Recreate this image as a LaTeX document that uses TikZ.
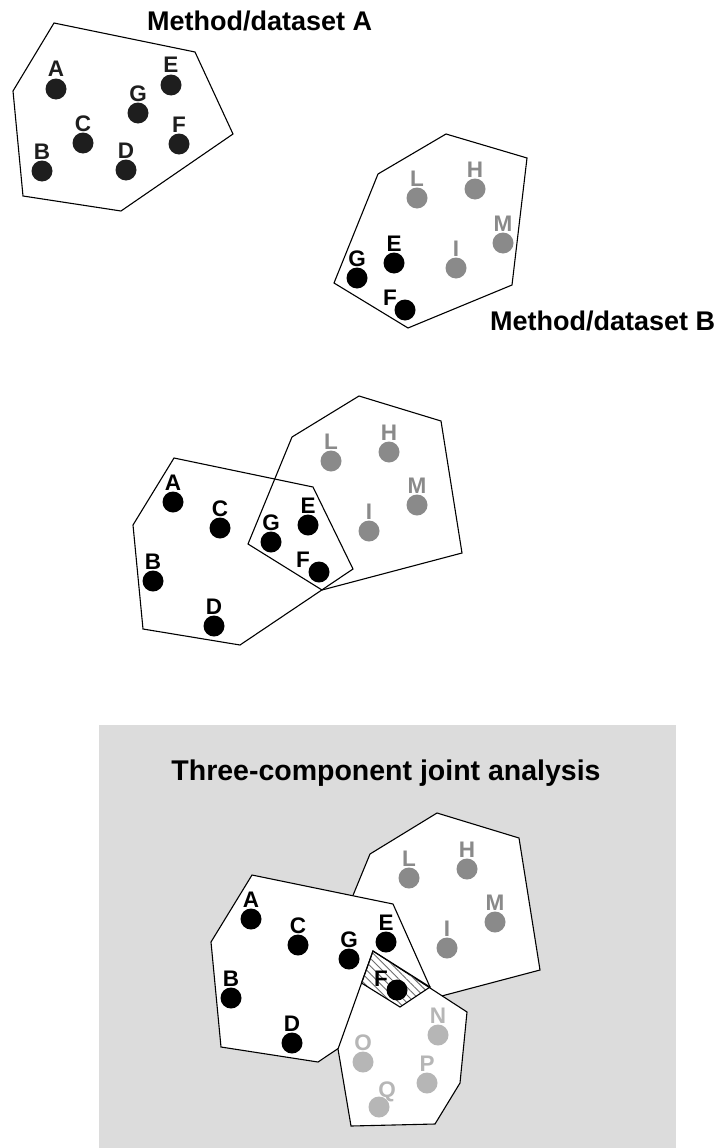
\documentclass[tikz,border=0pt]{standalone}
\usepackage{fontspec}
\setmainfont{Liberation Sans}
\usetikzlibrary{patterns.meta}
\definecolor{dotblack}{HTML}{1E1E1E}
\definecolor{dotgray}{HTML}{8A8A8A}
\definecolor{dotlight}{HTML}{B6B6B6}
\definecolor{panelbg}{HTML}{DCDCDC}
\tikzset{
  hull/.style={draw=black, line width=1.1pt, line join=miter},
  hullw/.style={hull, fill=white},
  dotnode/.style={circle, minimum size=21pt, inner sep=0pt, draw=none},
  lbl/.style={font=\fontsize{22.5}{22.5}\selectfont\bfseries, anchor=base, inner sep=0pt},
  ttl/.style={font=\fontsize{27}{27}\selectfont\bfseries, inner sep=0pt, anchor=base west},
}
% #1 name, #2 x, #3 y, #4 label, #5 colour
\newcommand\spot[5]{%
  \node[dotnode, fill=#5] (#1) at (#2,#3) {};
  \node[lbl, text=#5] (#1l) at ([yshift=12pt]#1.center) {#4};}
% label placed at offset
\newcommand\spotoff[7]{%
  \node[dotnode, fill=#5] (#1) at (#2,#3) {};
  \node[lbl, text=#5] (#1l) at ([xshift=#6,yshift=#7]#1.center) {#4};}
\begin{document}
\begin{tikzpicture}[x=1pt,y=-1pt]
\useasboundingbox (0,0) rectangle (721,1148);

% ---------- Panel 1 ----------
\node[ttl] (titleA) at (147,31) {Method/dataset A};
\draw[hull] (54,23) -- (195,52) -- (233,134) -- (121,211) -- (23,196) -- (13,91) -- cycle;
\spot{p1a}{56}{89}{A}{dotblack}
\spot{p1e}{171}{85}{E}{dotblack}
\spot{p1g}{138}{113}{G}{dotblack}
\spot{p1c}{83}{143}{C}{dotblack}
\spot{p1f}{179}{144}{F}{dotblack}
\spot{p1b}{42}{171}{B}{dotblack}
\spot{p1d}{126}{170}{D}{dotblack}

% ---------- Panel 2 ----------
\draw[hull] (378,174) -- (446,134) -- (527,158) -- (512,285) -- (408,328) -- (334,283) -- cycle;
\spot{p2l}{417}{198}{L}{dotgray}
\spot{p2h}{475}{189}{H}{dotgray}
\spot{p2m}{503}{243}{M}{dotgray}
\spot{p2i}{456}{268}{I}{dotgray}
\spot{p2e}{394}{263}{E}{black}
\spot{p2g}{357}{278}{G}{black}
\spotoff{p2f}{405}{310}{F}{black}{-15pt}{5pt}
\node[ttl] (titleB) at (490,330) {Method/dataset B};

% ---------- Panel 3 ----------
\draw[hull] (174,458) -- (313,487) -- (353,569) -- (240,645) -- (143,629) -- (133,525) -- cycle;
\draw[hull] (292,437) -- (359,396) -- (441,421) -- (462,553) -- (322,590) -- (248,544) -- cycle;
\spot{p3a}{173}{502}{A}{black}
\spot{p3c}{220}{528}{C}{black}
\spot{p3g}{271}{542}{G}{black}
\spot{p3e}{308}{525}{E}{black}
\spotoff{p3f}{319}{572}{F}{black}{-16pt}{5pt}
\spot{p3b}{153}{581}{B}{black}
\spot{p3d}{214}{626}{D}{black}
\spot{p3l}{331}{461}{L}{dotgray}
\spot{p3h}{389}{452}{H}{dotgray}
\spot{p3m}{417}{505}{M}{dotgray}
\spot{p3i}{369}{531}{I}{dotgray}

% ---------- Panel 4 ----------
\fill[panelbg] (99,725) rectangle (676,1148);
\node[font=\fontsize{28.5}{28.5}\selectfont\bfseries, inner sep=0pt, anchor=base] (titleC) at (386,780) {Three-component joint analysis};
\draw[hullw] (370,854) -- (437,813) -- (519,838) -- (540,970) -- (400,1007) -- (326,961) -- cycle;
\draw[hullw] (252,875) -- (393,904) -- (430,987) -- (318,1062) -- (221,1047) -- (211,942) -- cycle;
\draw[hullw] (373,951) -- (467,1012) -- (460,1083) -- (435,1124) -- (351,1126) -- (338,1049) -- cycle;
\draw[hull, pattern={Lines[angle=135, distance=5.5pt, line width=0.9pt]}, pattern color=gray!85!black]
  (373,951) -- (430,987) -- (400,1007) -- (361.5,983) -- cycle;
\spot{p4a}{251}{919}{A}{black}
\spot{p4c}{298}{945}{C}{black}
\spot{p4g}{349}{959}{G}{black}
\spot{p4e}{386}{942}{E}{black}
\spotoff{p4f}{397}{990}{F}{black}{-16pt}{4pt}
\spot{p4b}{231}{998}{B}{black}
\spot{p4d}{292}{1043}{D}{black}
\spot{p4l}{409}{878}{L}{dotgray}
\spot{p4h}{467}{869}{H}{dotgray}
\spot{p4m}{495}{922}{M}{dotgray}
\spot{p4i}{447}{948}{I}{dotgray}
\spot{p4n}{438}{1035}{N}{dotlight}
\spot{p4o}{363}{1062}{O}{dotlight}
\spot{p4p}{427}{1083}{P}{dotlight}
\spotoff{p4q}{379}{1107}{Q}{dotlight}{8pt}{10pt}
\end{tikzpicture}
\end{document}
